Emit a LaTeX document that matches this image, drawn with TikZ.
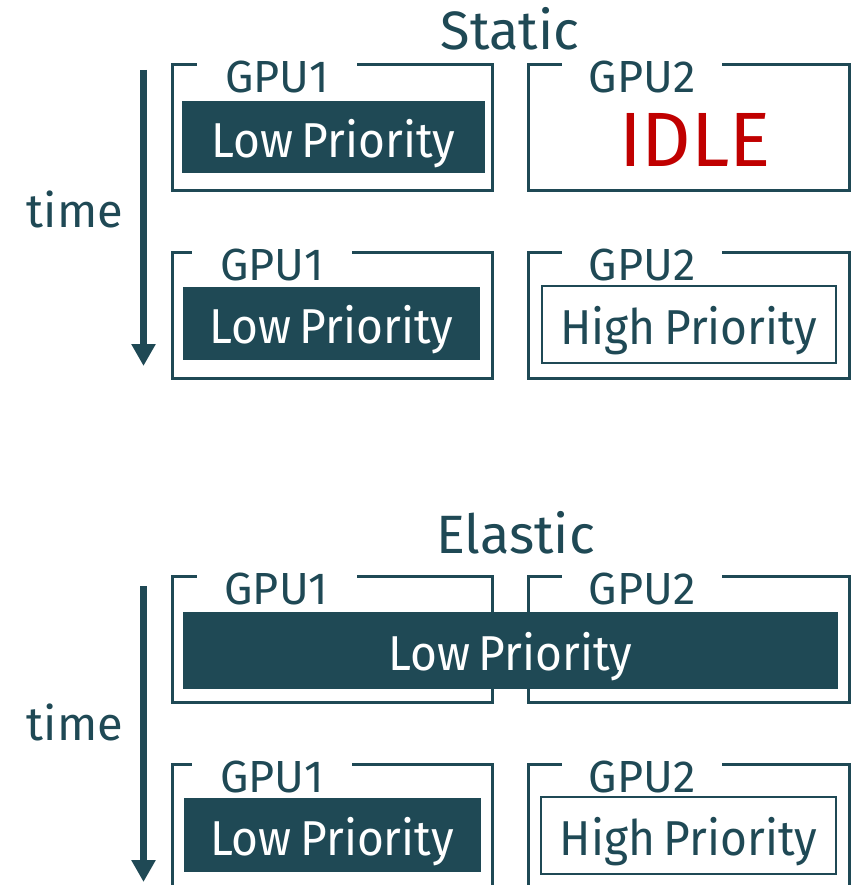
\documentclass[tikz,border=0pt]{standalone}
\usepackage{fontspec}
\setmainfont{Fira Sans}
\newfontfamily\boxfont{Fira Sans}[FakeStretch=0.94,WordSpace=0.7]
\usetikzlibrary{arrows.meta}
\definecolor{slate}{RGB}{31,73,85}
\definecolor{idlered}{RGB}{192,0,0}

\begin{document}
\begin{tikzpicture}[x=1pt,y=-1pt,
  gpu/.style={draw=slate,line width=3pt,minimum width=320pt,minimum height=126pt,inner sep=0pt},
  gpulabel/.style={fill=white,text=slate,font=\fontsize{45}{45}\selectfont,minimum width=160pt,inner sep=0pt,anchor=base},
  lowbox/.style={fill=slate,text=white,font=\boxfont\fontsize{49}{49}\selectfont,inner sep=0pt,text height=40pt,text depth=0pt},
  highbox/.style={draw=slate,line width=2pt,text=slate,font=\boxfont\fontsize{49}{49}\selectfont,inner sep=0pt,text height=40pt,text depth=0pt},
  title/.style={text=slate,font=\fontsize{54}{54}\selectfont,anchor=base},
  timelabel/.style={text=slate,font=\fontsize{47}{47}\selectfont,anchor=base},
  timeaxis/.style={draw=slate,line width=7pt,-{Triangle[width=23pt,length=22pt]}}]
\useasboundingbox (0,0) rectangle (862,885);
\clip (0,0) rectangle (862,885);

% static sharing
\node[title] (static) at (510,50) {Static};
\coordinate (st0) at (143.5,70);
\coordinate (st1) at (143.5,366);
\draw[timeaxis] (st0) -- (st1);
\node[timelabel] (stime) at (75,228) {time};

\node[gpu] (s1a) at (332,128) {};
\node[gpu,minimum width=321pt] (s1b) at (688.5,128) {};
\node[gpulabel] (s1al) at (277,93) {GPU1};
\node[gpulabel] (s1bl) at (642,93) {GPU2};
\node[lowbox,minimum width=303pt,minimum height=72pt,text height=42pt] (s1low) at (333.5,137) {Low Priority};
\node[text=idlered,font=\fontsize{77}{77}\selectfont,anchor=base] (idle) at (695,167) {IDLE};

\node[gpu] (s2a) at (332,315) {};
\node[gpu,minimum width=321pt] (s2b) at (688.5,315) {};
\node[gpulabel] (s2al) at (272,280.5) {GPU1};
\node[gpulabel] (s2bl) at (642,280.5) {GPU2};
\node[lowbox,minimum width=297pt,minimum height=73pt] (s2low) at (331.5,323.5) {Low Priority};
\node[highbox,minimum width=294pt,minimum height=77pt] (s2high) at (689,324.5) {High Priority};

% elastic sharing
\node[title] (elastic) at (515.5,553) {Elastic};
\coordinate (et0) at (143.5,586);
\coordinate (et1) at (143.5,882);
\draw[timeaxis] (et0) -- (et1);
\node[timelabel] (etime) at (75,740) {time};

\node[gpu] (e1a) at (332,639.5) {};
\node[gpu,minimum width=321pt] (e1b) at (688.5,639.5) {};
\node[gpulabel] (e1al) at (276.5,604.5) {GPU1};
\node[gpulabel] (e1bl) at (642,604.5) {GPU2};
\node[lowbox,minimum width=655pt,minimum height=77pt] (e1low) at (510.5,650.5) {Low Priority};

\node[gpu] (e2a) at (332,827) {};
\node[gpu,minimum width=321pt] (e2b) at (688.5,827) {};
\node[gpulabel] (e2al) at (272,792) {GPU1};
\node[gpulabel] (e2bl) at (642,792) {GPU2};
\node[lowbox,minimum width=297pt,minimum height=74pt] (e2low) at (332,835) {Low Priority};
\node[highbox,minimum width=295pt,minimum height=77pt] (e2high) at (688.5,835.5) {High Priority};
\end{tikzpicture}
\end{document}
